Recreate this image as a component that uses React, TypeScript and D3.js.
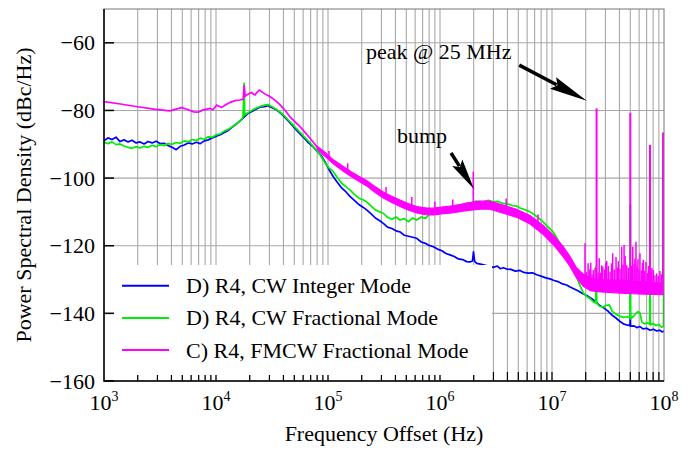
import React, { useRef, useEffect } from "react";
import * as d3 from "d3";

type Pt = [number, number];

const seriesNames = [
  "D) R4, CW Integer Mode",
  "D) R4, CW Fractional Mode",
  "C) R4, FMCW Fractional Mode"
];
const seriesColors = ["#0000ff", "#00ee00", "#ff00ff"];
const yTickValues = [-160, -140, -120, -100, -80, -60];
const xDecades = [3, 4, 5, 6, 7, 8];

// [frequency offset (Hz), dBc/Hz]
const cwInteger: Pt[] = [
  [1000, -89.0], [1086, -88.1], [1179, -88.6], [1280, -87.9], [1390, -89.2], [1510, -88.7],
  [1640, -89.3], [1780, -88.8], [1935, -89.6], [2100, -89.3], [2280, -89.9], [2476, -89.2],
  [2690, -89.6], [2920, -89.1], [3170, -89.8], [3445, -89.7], [3740, -90.4], [4060, -90.9],
  [4410, -91.6], [4790, -90.6], [5200, -90.2], [5650, -89.6], [6135, -89.9], [6660, -89.4],
  [7235, -89.8], [7855, -89.0], [8530, -88.7], [9265, -88.1], [10060, -87.6], [10925, -87.2],
  [11865, -86.5], [12885, -85.9], [13990, -84.9], [15195, -84.0], [16500, -83.0], [17920, -81.9],
  [19460, -80.8], [21130, -80.2], [22950, -79.6], [24920, -79.0], [27060, -78.9], [29390, -78.6],
  [31920, -79.3], [34660, -79.8], [37640, -80.8], [40880, -81.9], [44390, -83.2], [48200, -84.5],
  [52350, -85.8], [56850, -87.1], [61740, -88.3], [67050, -89.6], [72820, -90.6], [79080, -91.9],
  [85880, -93.1], [93270, -95.0], [101300, -97.3], [111500, -99.6], [121000, -101.2], [133000, -103.0],
  [145000, -104.1], [157000, -105.4], [172000, -106.6], [190000, -107.9], [205000, -108.6],
  [221300, -109.4], [243000, -110.6], [265000, -111.8], [290000, -112.6], [311900, -113.4],
  [340000, -114.5], [372000, -114.9], [405000, -115.6], [439500, -115.9], [480000, -116.9],
  [525000, -117.2], [570000, -117.5], [619400, -117.8], [680000, -118.9], [740000, -119.3],
  [800000, -119.9], [871800, -120.3], [950000, -121.0], [1040000, -121.5], [1130000, -122.3],
  [1228000, -122.7], [1340000, -123.2], [1460000, -123.9], [1590000, -124.1], [1730000, -124.7],
  [1850000, -124.8], [1950000, -124.5], [1990000, -121.8], [2040000, -124.6], [2130000, -125.2],
  [2400000, -125.6], [2700000, -126.0], [2990000, -126.4], [3250000, -126.0], [3450000, -126.8],
  [3670000, -126.5], [3950000, -126.9], [4300000, -127.0], [4700000, -127.5], [5180000, -127.3],
  [5600000, -127.9], [6100000, -128.1], [6700000, -128.0], [7300000, -128.6], [8000000, -129.0],
  [8800000, -129.5], [9600000, -129.8], [10300000, -130.2], [11300000, -130.6], [12400000, -131.3],
  [13500000, -131.6], [14500000, -132.2], [15800000, -132.8], [17200000, -133.4], [18700000, -134.1],
  [20400000, -134.7], [22300000, -135.5], [24300000, -136.4], [26500000, -137.6], [28700000, -138.3],
  [31300000, -139.2], [34000000, -140.4], [37000000, -141.3], [40500000, -142.4], [44000000, -143.2],
  [47500000, -143.5], [49700000, -143.6], [50000000, -140.0], [50300000, -143.8], [54000000, -143.7],
  [57000000, -144.2], [61000000, -143.9], [65000000, -144.6], [70000000, -144.4], [75000000, -145.0],
  [80300000, -144.7], [86000000, -145.2], [92000000, -145.0], [96000000, -145.5], [100000000, -145.2]
];

const cwFractional: Pt[] = [
  [1000, -89.4], [1086, -89.8], [1179, -89.3], [1280, -90.1], [1390, -89.9], [1510, -90.5],
  [1640, -90.9], [1780, -91.2], [1935, -90.7], [2100, -91.1], [2280, -90.6], [2476, -90.9],
  [2690, -90.3], [2920, -90.7], [3170, -90.1], [3445, -90.4], [3740, -89.8], [4060, -90.0],
  [4410, -89.5], [4790, -89.7], [5200, -89.0], [5650, -89.3], [6135, -88.6], [6660, -88.9],
  [7235, -88.2], [7855, -88.5], [8530, -87.8], [9265, -87.9], [10060, -87.2], [10925, -86.9],
  [11865, -86.1], [12885, -85.6], [13990, -84.8], [15195, -84.0], [16500, -83.0], [17400, -82.1],
  [17850, -72.0], [18050, -81.4], [19460, -80.6], [21130, -79.9], [22950, -79.3], [24920, -78.8],
  [27060, -78.4], [29390, -78.3], [31920, -79.0], [34660, -79.7], [37640, -80.6], [40880, -81.6],
  [44390, -82.9], [48200, -84.1], [52350, -85.4], [56850, -86.6], [61740, -87.9], [67050, -89.1],
  [72820, -90.4], [79080, -91.8], [85880, -93.4], [93270, -95.3], [101300, -96.9], [111500, -98.1],
  [121000, -99.8], [133000, -101.6], [145000, -102.6], [157000, -103.5], [172000, -104.8],
  [190000, -106.0], [205000, -106.4], [221300, -107.0], [243000, -108.3], [265000, -109.4],
  [290000, -110.0], [311900, -110.4], [340000, -111.6], [372000, -112.2], [405000, -111.5],
  [439500, -112.4], [480000, -112.0], [525000, -112.9], [570000, -111.8], [619400, -112.4],
  [680000, -111.5], [740000, -111.9], [800000, -110.8], [871800, -110.5], [950000, -109.6],
  [1040000, -109.8], [1130000, -108.9], [1228000, -108.5], [1340000, -108.7], [1460000, -107.9],
  [1590000, -108.1], [1730000, -107.5], [1900000, -107.3], [2100000, -106.8], [2400000, -107.0],
  [2700000, -106.6], [2990000, -107.0], [3300000, -106.9], [3670000, -107.5], [4000000, -107.6],
  [4400000, -108.1], [4840000, -108.3], [5300000, -109.0], [5800000, -109.4], [6370000, -110.0],
  [7000000, -110.9], [7700000, -112.0], [8360000, -113.0], [9200000, -114.4], [10280000, -116.0],
  [11300000, -118.3], [12620000, -121.0], [14000000, -123.6], [15200000, -126.2], [16600000, -129.2],
  [17800000, -131.8], [19050000, -134.0], [20400000, -135.0], [21800000, -135.6], [23400000, -136.6],
  [24600000, -136.9], [24800000, -126.0], [25100000, -137.0], [26500000, -137.9], [28700000, -138.1],
  [30500000, -137.6], [32500000, -137.5], [34500000, -139.4], [37000000, -140.2], [40000000, -140.8],
  [43500000, -141.2], [47000000, -141.0], [49600000, -141.3], [49800000, -108.0], [50200000, -108.0],
  [50400000, -141.6], [53000000, -141.0], [56000000, -140.1], [58500000, -139.5], [61000000, -139.9],
  [63500000, -142.6], [67000000, -143.1], [71000000, -142.8], [74600000, -143.2], [74900000, -112.0],
  [75200000, -112.0], [75500000, -143.4], [80000000, -143.0], [85000000, -143.6], [90000000, -143.3],
  [95000000, -144.1], [99000000, -143.8], [99600000, -108.0], [100000000, -108.0]
];

// FMCW below ~80 kHz is a thin trace
const fmcwLow: Pt[] = [
  [1000, -77.4], [1400, -78.1], [2000, -78.9], [2800, -79.6], [3880, -80.1], [4400, -79.6],
  [4940, -79.2], [5600, -79.7], [6300, -80.4], [6940, -80.5], [7600, -79.9], [8300, -79.6],
  [8830, -79.4], [9400, -79.8], [10150, -78.4], [10700, -78.8], [11250, -79.1], [12200, -78.3],
  [13400, -77.6], [14800, -77.1], [16300, -76.9], [17500, -76.7], [17850, -72.5], [18200, -75.8],
  [18800, -75.4], [19800, -75.0], [20800, -74.7], [21600, -75.2], [22300, -75.4], [23300, -74.6],
  [24450, -74.0], [25700, -74.5], [27300, -75.1], [28800, -75.5], [30300, -75.9], [32500, -76.6],
  [34800, -77.4], [37200, -78.3], [39900, -79.4], [42800, -80.6], [45780, -81.9], [50500, -83.3],
  [56230, -84.8], [62000, -86.4], [69050, -88.2], [75000, -89.7], [81900, -91.2]
];

// above that the trace is a dense noisy band: [Hz, low, high]
const fmcwBand: [number, number, number][] = [
  [80000, -91.4, -90.6], [95000, -93.7, -92.5], [111500, -95.8, -94.6], [135000, -97.8, -96.4],
  [157000, -99.3, -97.9], [185000, -100.8, -99.3], [221300, -102.3, -100.7], [260000, -104.1, -102.4],
  [311900, -105.9, -104.1], [370000, -107.2, -105.4], [439500, -108.4, -106.5], [520000, -109.4, -107.5],
  [619400, -110.3, -108.4], [740000, -110.8, -108.8], [871800, -110.9, -108.9], [1030000, -110.6, -108.6],
  [1228000, -110.4, -108.3], [1460000, -110.0, -107.9], [1730000, -109.6, -107.4], [2275000, -109.2, -106.8],
  [2790000, -109.2, -106.8], [3670000, -110.4, -108.0], [4840000, -111.6, -109.2], [6370000, -113.6, -111.1],
  [8360000, -116.7, -114.0], [10280000, -119.7, -116.9], [12620000, -123.3, -120.3], [14490000, -126.1, -123.2],
  [16600000, -129.6, -126.6], [19050000, -132.0, -128.4], [22000000, -133.3, -129.6], [25100000, -133.6, -129.9],
  [32000000, -133.8, -130.1], [40500000, -134.0, -130.2], [52000000, -134.2, -130.5], [65300000, -134.3, -130.7],
  [80000000, -134.4, -130.9], [100000000, -134.5, -131.0]
];

// spurs and noise spikes on the FMCW trace: [Hz, peak dBc/Hz]
const fmcwSpikes: Pt[] = [
  [102000, -92.0], [150000, -95.6], [330000, -102.6], [560000, -105.6], [900000, -106.9],
  [1300000, -106.3], [1980000, -98.1], [3900000, -106.0], [7500000, -110.8],
  [19700000, -119.3], [20300000, -127.8], [21000000, -125.2], [21600000, -127.0], [22200000, -125.0],
  [22800000, -128.5], [23400000, -127.2], [24200000, -126.5], [25000000, -79.4], [25800000, -127.9],
  [26400000, -123.7], [27200000, -128.0], [27800000, -125.8], [28400000, -126.2], [29500000, -127.0],
  [30200000, -125.0], [30800000, -124.5], [31800000, -126.0], [33000000, -127.7], [34000000, -125.2],
  [34800000, -122.2], [36000000, -127.0], [37300000, -123.3], [38300000, -126.4], [39100000, -124.6],
  [40500000, -126.8], [41900000, -120.3], [43000000, -125.6], [44000000, -119.8], [45000000, -123.0],
  [46500000, -125.8], [48000000, -126.5], [50000000, -80.7], [51300000, -126.0], [52600000, -120.3],
  [54000000, -125.5], [55000000, -123.8], [56200000, -118.8], [57300000, -126.2], [58500000, -124.0],
  [59800000, -127.0], [61000000, -122.2], [63000000, -127.3], [64200000, -125.1], [65400000, -124.2],
  [67000000, -127.4], [69000000, -124.8], [71000000, -128.1], [72800000, -126.0], [75000000, -90.2],
  [76500000, -127.9], [78000000, -126.6], [80300000, -127.2], [83000000, -128.7], [86000000, -128.2],
  [89000000, -128.9], [92000000, -127.5], [95000000, -128.4], [98000000, -86.5]
];

// annotation anchors in data space
const annotations = [
  { label: "peak @ 25 MHz", text: [218000, -64.8], tail: [5100000, -66.6], tip: [20400000, -77.1], head: 38, width: 13 },
  { label: "bump", text: [413000, -89.5], tail: [1254000, -92.6], tip: [2010000, -103.2], head: 31, width: 12 }
];

const W = 691;
const H = 451;
const margin = { left: 104, right: 27, top: 9, bottom: 70 };
const font = "Liberation Serif, Times New Roman, Times, serif";

const App = () => {
  const node: any = useRef();

  useEffect(() => {
    const svg = d3.select(node.current);
    svg.selectAll("*").remove();
    svg.style("font-family", font);

    const x = d3
      .scaleLog()
      .domain([1e3, 1e8])
      .range([margin.left, W - margin.right]);
    const y = d3
      .scaleLinear()
      .domain([-160, -50])
      .range([H - margin.bottom, margin.top]);
    const [x0, x1] = x.range();
    const [yb, yt] = y.range();

    svg
      .append("rect")
      .attr("width", W)
      .attr("height", H)
      .attr("fill", "white");

    // grid
    const minor: number[] = [];
    xDecades.slice(0, -1).forEach(e => {
      for (let m = 1; m < 10; m++) minor.push(m * Math.pow(10, e));
    });
    const grid = svg.append("g").attr("stroke", "#a8a8a8").attr("stroke-width", 1.1);
    grid
      .selectAll("line.v")
      .data(minor.slice(1))
      .enter()
      .append("line")
      .attr("x1", d => x(d))
      .attr("x2", d => x(d))
      .attr("y1", yt)
      .attr("y2", yb);
    grid
      .selectAll("line.h")
      .data(yTickValues.slice(1))
      .enter()
      .append("line")
      .attr("x1", x0)
      .attr("x2", x1)
      .attr("y1", d => y(d))
      .attr("y2", d => y(d));

    // bottom ticks (inside)
    svg
      .append("g")
      .attr("stroke", "black")
      .attr("stroke-width", 1.2)
      .selectAll("line")
      .data(minor.slice(1))
      .enter()
      .append("line")
      .attr("x1", d => x(d))
      .attr("x2", d => x(d))
      .attr("y1", yb)
      .attr("y2", yb - 9);

    svg
      .append("clipPath")
      .attr("id", "plot")
      .append("rect")
      .attr("x", x0)
      .attr("y", yt)
      .attr("width", x1 - x0)
      .attr("height", yb - yt);
    const plot = svg.append("g").attr("clip-path", "url(#plot)");

    const line = d3
      .line<Pt>()
      .x(d => x(d[0]))
      .y(d => y(d[1]));

    [cwInteger, cwFractional].forEach((data, i) => {
      plot
        .append("path")
        .datum(data)
        .attr("d", line)
        .attr("fill", "none")
        .attr("stroke", seriesColors[i])
        .attr("stroke-width", 1.7)
        .attr("stroke-linejoin", "round");
    });

    const magenta = seriesColors[2];
    plot
      .append("path")
      .datum(fmcwLow)
      .attr("d", line)
      .attr("fill", "none")
      .attr("stroke", magenta)
      .attr("stroke-width", 1.7);

    const band = d3
      .area<[number, number, number]>()
      .x(d => x(d[0]))
      .y0(d => y(d[1]))
      .y1(d => y(d[2]));
    plot
      .append("path")
      .datum(fmcwBand)
      .attr("d", band)
      .attr("fill", magenta)
      .attr("stroke", magenta)
      .attr("stroke-width", 1.2);

    const bandMid = d3
      .scaleLog()
      .domain(fmcwBand.map(d => d[0]))
      .range(fmcwBand.map(d => (d[1] + d[2]) / 2));
    plot
      .append("g")
      .attr("stroke", magenta)
      .selectAll("line")
      .data(fmcwSpikes)
      .enter()
      .append("line")
      .attr("stroke-width", d => (d[1] > -100 && d[0] > 1e7 ? 2 : 1.5))
      .attr("x1", d => x(d[0]))
      .attr("x2", d => x(d[0]))
      .attr("y1", d => y(bandMid(d[0])))
      .attr("y2", d => y(d[1]));

    // frame
    svg
      .append("rect")
      .attr("x", x0)
      .attr("y", yt)
      .attr("width", x1 - x0)
      .attr("height", yb - yt)
      .attr("fill", "none")
      .attr("stroke", "#777")
      .attr("stroke-width", 1);
    svg
      .append("path")
      .attr("d", `M${x0},${yt}V${yb}H${x1}`)
      .attr("fill", "none")
      .attr("stroke", "black")
      .attr("stroke-width", 1.5);

    // left ticks + labels
    const yAxis = svg.append("g");
    yAxis
      .selectAll("line")
      .data(yTickValues)
      .enter()
      .append("line")
      .attr("x1", x0)
      .attr("x2", x0 + 10)
      .attr("y1", d => y(d))
      .attr("y2", d => y(d))
      .attr("stroke", "black")
      .attr("stroke-width", 1.5);
    yAxis
      .selectAll("text")
      .data(yTickValues)
      .enter()
      .append("text")
      .attr("x", x0 - 9)
      .attr("y", d => y(d) + 7.5)
      .attr("text-anchor", "end")
      .style("font-size", "22px")
      .text(d => (d < 0 ? "\u2212" + Math.abs(d) : String(d)));

    // bottom labels 10^n
    const xLabels = svg
      .append("g")
      .selectAll("text")
      .data(xDecades)
      .enter()
      .append("text")
      .attr("x", d => x(Math.pow(10, d)))
      .attr("y", yb + 29)
      .attr("text-anchor", "middle")
      .style("font-size", "22px");
    xLabels.append("tspan").text("10");
    xLabels
      .append("tspan")
      .attr("dy", -9)
      .style("font-size", "14px")
      .text(d => String(d));

    // axis titles
    svg
      .append("text")
      .attr("x", (x0 + x1) / 2)
      .attr("y", 441)
      .attr("text-anchor", "middle")
      .style("font-size", "22px")
      .text("Frequency Offset (Hz)");
    svg
      .append("text")
      .attr("transform", `translate(31,${(yt + yb) / 2}) rotate(-90)`)
      .attr("text-anchor", "middle")
      .style("font-size", "22px")
      .text("Power Spectral Density (dBc/Hz)");

    // legend
    const legend = svg.append("g");
    legend
      .append("rect")
      .attr("x", x0 + 10)
      .attr("y", 265)
      .attr("width", 378)
      .attr("height", 110)
      .attr("fill", "white");
    seriesNames.forEach((name, i) => {
      const ly = 285.7 + i * 32.2;
      legend
        .append("line")
        .attr("x1", 122)
        .attr("x2", 169)
        .attr("y1", ly)
        .attr("y2", ly)
        .attr("stroke", seriesColors[i])
        .attr("stroke-width", 2);
      legend
        .append("text")
        .attr("x", 186)
        .attr("y", ly + 7.5)
        .style("font-size", "22px")
        .text(name);
    });

    // annotations with arrows
    annotations.forEach(a => {
      svg
        .append("text")
        .attr("x", x(a.text[0]))
        .attr("y", y(a.text[1]))
        .style("font-size", "22px")
        .text(a.label);
      const tx = x(a.tail[0]),
        ty = y(a.tail[1]),
        px = x(a.tip[0]),
        py = y(a.tip[1]);
      const len = Math.hypot(px - tx, py - ty);
      const ux = (px - tx) / len,
        uy = (py - ty) / len;
      const bx = px - ux * a.head,
        by = py - uy * a.head;
      svg
        .append("line")
        .attr("x1", tx)
        .attr("y1", ty)
        .attr("x2", bx + ux * 4)
        .attr("y2", by + uy * 4)
        .attr("stroke", "black")
        .attr("stroke-width", 3.5);
      const hw = a.width / 2;
      svg
        .append("path")
        .attr(
          "d",
          `M${px},${py}L${bx - uy * hw},${by + ux * hw}L${bx + ux * 5},${by + uy * 5}L${bx + uy * hw},${by - ux * hw}Z`
        )
        .attr("fill", "black");
    });
  }, []);

  return (
    <div style={{ position: "absolute", left: 0, top: 0 }}>
      <svg ref={node} width={W} height={H}></svg>
    </div>
  );
};

export default App;
